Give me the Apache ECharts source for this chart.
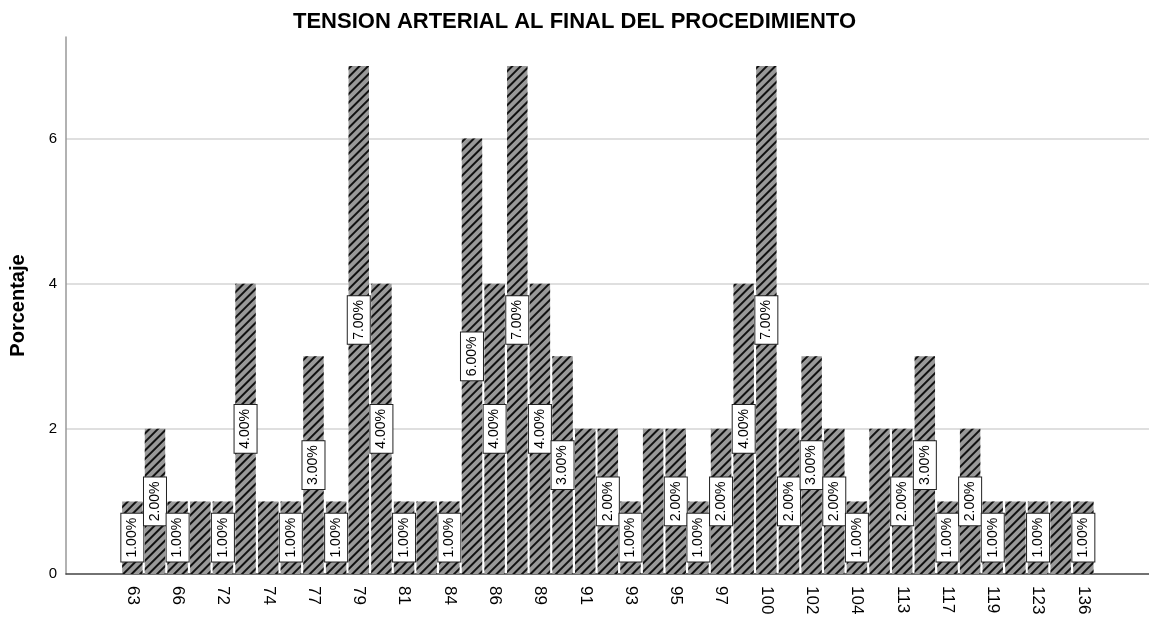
<!DOCTYPE html>
<html>
<head>
<meta charset="utf-8">
<script src="https://cdn.jsdelivr.net/npm/echarts@6/dist/echarts.min.js"></script>
<style>
  html, body { margin: 0; padding: 0; background: #fff; }
  #chart { width: 1149px; height: 621px; }
</style>
</head>
<body>
<div id="chart"></div>
<script>
// categorias (mmHg); las impares no llevan rotulo en el eje
var categories = ['63', '65', '66', '70', '72', '73', '74', '76', '77', '78', '79',
  '80', '81', '83', '84', '85', '86', '88', '89', '90', '91', '92', '93', '94', '95',
  '96', '97', '99', '100', '101', '102', '103', '104', '110', '113', '115', '117',
  '118', '119', '120', '123', '130', '136'];
// porcentaje de cada categoria
var percents = [1, 2, 1, 1, 1, 4, 1, 1, 3, 1, 7, 4, 1, 1, 1, 6, 4, 7, 4, 3, 2, 2, 1,
  2, 2, 1, 2, 4, 7, 2, 3, 2, 1, 2, 2, 3, 1, 2, 1, 1, 1, 1, 1];
// barras cuyo rotulo SPSS omitio
var hiddenLabels = [3, 6, 13, 20, 23, 33, 39, 41];
var yTicks = [0, 2, 4, 6];

var tickIdx = [];
for (var i = 0; i < categories.length; i += 2) tickIdx.push(i);

var data = percents.map(function (v, i) {
  return {
    value: [i, v],
    label: { show: hiddenLabels.indexOf(i) < 0 }
  };
});

var myChart = echarts.init(document.getElementById('chart'));
myChart.setOption({
  backgroundColor: '#fff',
  animation: false,
  title: {
    text: 'TENSION ARTERIAL AL FINAL DEL PROCEDIMIENTO',
    left: 'center',
    top: 6,
    textStyle: { fontFamily: 'Liberation Sans', fontSize: 22, fontWeight: 'bold', color: '#000' }
  },
  grid: { left: 66, right: 0, top: 37, bottom: 47, outerBoundsMode: 'none' },
  xAxis: {
    type: 'value',
    min: -2.93,
    max: 44.9,
    axisLine: { lineStyle: { color: '#444', width: 1.5 } },
    axisTick: { show: false },
    splitLine: { show: false },
    axisLabel: {
      customValues: tickIdx,
      rotate: -90,
      margin: 12,
      fontFamily: 'Liberation Sans',
      fontSize: 17,
      color: '#000',
      formatter: function (v) { return categories[v]; }
    }
  },
  yAxis: {
    type: 'value',
    min: 0,
    max: 7.4,
    interval: 2,
    name: 'Porcentaje',
    nameLocation: 'middle',
    nameGap: 38,
    nameTextStyle: { fontFamily: 'Liberation Sans', fontSize: 20, fontWeight: 'bold', color: '#000' },
    axisLine: { show: true, onZero: false, lineStyle: { color: '#999', width: 1.5 } },
    axisTick: { show: false },
    axisLabel: {
      customValues: yTicks,
      margin: 9,
      fontFamily: 'Liberation Sans',
      fontSize: 15,
      color: '#000'
    },
    splitLine: { show: true, showMaxLine: false, showMinLine: false, lineStyle: { color: '#d4d4d4', width: 1.5 } }
  },
  series: [{
    type: 'bar',
    barWidth: 20.4,
    data: data,
    itemStyle: {
      color: '#999999',
      decal: {
        symbol: 'rect',
        symbolSize: 1,
        color: '#111',
        dashArrayX: [1, 0],
        dashArrayY: [1.2, 3.2],
        rotation: -Math.PI / 4
      }
    },
    label: {
      position: 'inside',
      rotate: 90,
      formatter: function (p) { return p.value[1].toFixed(2) + '%'; },
      fontFamily: 'Liberation Sans',
      fontSize: 14,
      color: '#000',
      backgroundColor: '#fff',
      borderColor: '#222',
      borderWidth: 1,
      padding: [3, 4],
      lineHeight: 16
    }
  }]
});
</script>
</body>
</html>
